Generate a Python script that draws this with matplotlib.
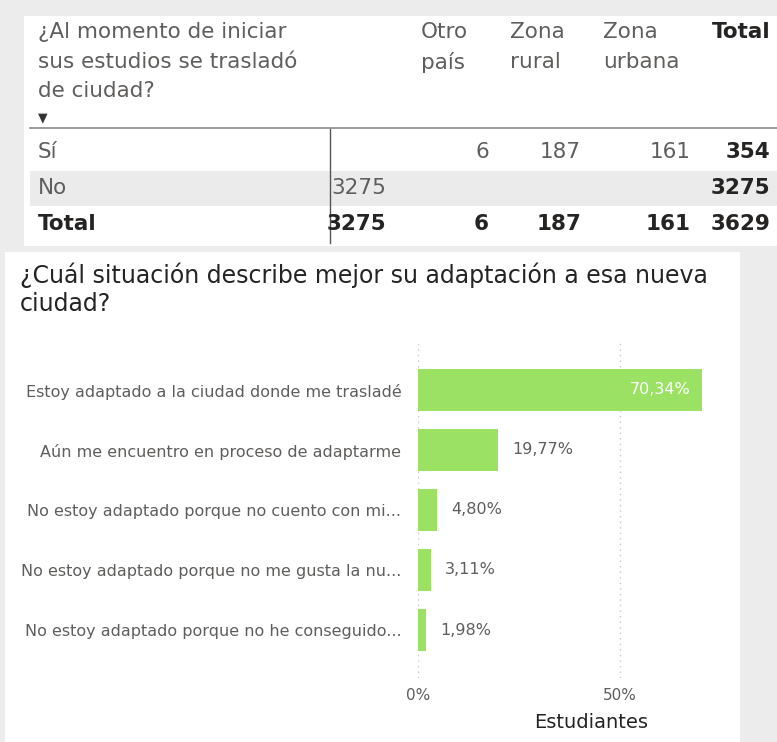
import matplotlib.pyplot as plt
from matplotlib.patches import Rectangle

# tabla: traslado de ciudad
col_headers = ["", "Otro\npaís", "Zona\nrural", "Zona\nurbana", "Total"]
row_labels = ["Sí", "No", "Total"]
row_si = ["", "6", "187", "161", "354"]
row_no = ["3275", "", "", "", "3275"]
row_total = ["3275", "6", "187", "161", "3629"]

# barras: adaptación
categorias = [
    "Estoy adaptado a la ciudad donde me trasladé",
    "Aún me encuentro en proceso de adaptarme",
    "No estoy adaptado porque no cuento con mi...",
    "No estoy adaptado porque no me gusta la nu...",
    "No estoy adaptado porque no he conseguido...",
]
porcentajes = [70.34, 19.77, 4.80, 3.11, 1.98]

W, H = 777, 742
fig = plt.figure(figsize=(W / 100, H / 100), dpi=100, facecolor="#ececec")

def fx(x):
    return x / W

def fy(y):
    return 1 - y / H

font = ["DejaVu Sans"]
txt = "#252423"
lab = "#605e5c"

# paneles blancos
fig.patches.append(Rectangle((fx(24), fy(246)), fx(777) - fx(24), fy(16) - fy(246),
                             transform=fig.transFigure, facecolor="white", edgecolor="none", zorder=0))
fig.patches.append(Rectangle((fx(5), fy(742)), fx(740) - fx(5), fy(252) - fy(742),
                             transform=fig.transFigure, facecolor="white", edgecolor="none", zorder=0))

# ---- tabla ----
fig.text(fx(38), fy(22), "¿Al momento de iniciar\nsus estudios se trasladó\nde ciudad?",
         family=font, fontsize=15.5, color=lab, va="top", linespacing=1.6)
fig.text(fx(38), fy(118), "▼", fontsize=9, color="#333333", va="center")
header_x = [None, 421, 510, 603, 712]
for i, h in enumerate(col_headers):
    if h:
        fig.text(fx(header_x[i]), fy(22), h, family=font, fontsize=15.5,
                 color=txt if h == "Total" else lab, va="top", linespacing=1.6,
                 weight="bold" if h == "Total" else "normal")

fig.lines.append(plt.Line2D([fx(30), fx(777)], [fy(128), fy(128)], transform=fig.transFigure,
                            color="#8a8a8a", lw=1.2))
fig.patches.append(Rectangle((fx(30), fy(206)), fx(777) - fx(30), fy(171) - fy(206),
                             transform=fig.transFigure, facecolor="#ebebeb", edgecolor="none"))
fig.lines.append(plt.Line2D([fx(330), fx(330)], [fy(129), fy(243)], transform=fig.transFigure,
                            color="#555555", lw=1))

value_right = [386, 489, 581, 691, 770]
row_y = [152, 188, 224]
for r, (name, vals) in enumerate(zip(row_labels, [row_si, row_no, row_total])):
    bold = name == "Total"
    fig.text(fx(38), fy(row_y[r]), name, family=font, fontsize=15.5, va="center",
             color=txt if bold else lab, weight="bold" if bold else "normal")
    for c, v in enumerate(vals):
        if v:
            b = bold or c == 4
            fig.text(fx(value_right[c]), fy(row_y[r]), v, family=font, fontsize=15.5,
                     va="center", ha="right", color=txt if b else lab,
                     weight="bold" if b else "normal")

# ---- gráfico de barras ----
fig.text(fx(20), fy(262), "¿Cuál situación describe mejor su adaptación a esa nueva\nciudad?",
         fontsize=17, color=txt, va="top", linespacing=1.25)

ax = fig.add_axes([fx(418), fy(678), fx(721) - fx(418), fy(342) - fy(678)])
ax.set_zorder(3)
ax.set_facecolor("none")
ypos = list(range(len(categorias)))
ax.barh(ypos, porcentajes, height=0.7, color="#9be264", zorder=2)
ax.set_xlim(0, 75)
ax.set_ylim(len(categorias) - 0.2, -0.8)
for s in ax.spines.values():
    s.set_visible(False)
ax.set_xticks([0, 50])
ax.set_xticklabels(["0%", "50%"], family=font, fontsize=11, color=lab)
ax.tick_params(axis="x", length=0, pad=7)
ax.grid(axis="x", color="#c8c8c8", linestyle=(0, (1, 3)), lw=1, zorder=0)
ax.set_yticks(ypos)
ax.set_yticklabels(categorias, family=font, fontsize=11.5, color=lab)
ax.tick_params(axis="y", length=0, pad=12)
ax.set_xlabel("Estudiantes", fontsize=14, color=txt)
ax.xaxis.set_label_coords(0.57, -0.105)
for i, p in enumerate(porcentajes):
    s = f"{p:.2f}%".replace(".", ",")
    if i == 0:
        ax.text(p - 2.8, i, s, ha="right", va="center", family=font, fontsize=11.5, color="white")
    else:
        ax.text(p + 3.5, i, s, ha="left", va="center", family=font, fontsize=11.5, color=lab)

fig.savefig("out.png", dpi=100, facecolor=fig.get_facecolor())
